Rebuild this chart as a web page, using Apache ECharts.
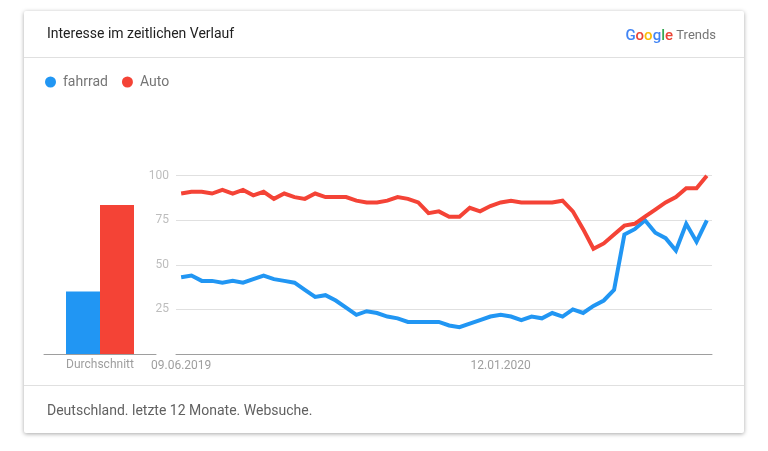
<!DOCTYPE html>
<html>
<head>
<meta charset="utf-8">
<title>Interesse im zeitlichen Verlauf</title>
<script src="https://cdn.jsdelivr.net/npm/echarts@6/dist/echarts.min.js"></script>
<style>
html, body { margin: 0; padding: 0; background: #fff; }
#chart { width: 768px; height: 451px; }
</style>
</head>
<body>
<div id="chart"></div>
<script>
const weeks = [
  '09.06.2019','16.06.2019','23.06.2019','30.06.2019','07.07.2019','14.07.2019','21.07.2019','28.07.2019',
  '04.08.2019','11.08.2019','18.08.2019','25.08.2019','01.09.2019','08.09.2019','15.09.2019','22.09.2019',
  '29.09.2019','06.10.2019','13.10.2019','20.10.2019','27.10.2019','03.11.2019','10.11.2019','17.11.2019',
  '24.11.2019','01.12.2019','08.12.2019','15.12.2019','22.12.2019','29.12.2019','05.01.2020','12.01.2020',
  '19.01.2020','26.01.2020','02.02.2020','09.02.2020','16.02.2020','23.02.2020','01.03.2020','08.03.2020',
  '15.03.2020','22.03.2020','29.03.2020','05.04.2020','12.04.2020','19.04.2020','26.04.2020','03.05.2020',
  '10.05.2020','17.05.2020','24.05.2020','31.05.2020'
]
const fahrrad = [43,44,41,41,40,41,40,42,44,42,41,40,36,32,33,30,26,22,24,23,21,20,18,18,18,18,16,15,17,19,21,22,21,19,21,20,23,21,25,23,27,30,36,67,70,75,68,65,58,73,63,75]
const auto = [90,91,91,90,92,90,92,89,91,87,90,88,87,90,88,88,88,86,85,85,86,88,87,85,79,80,77,77,82,80,83,85,86,85,85,85,85,86,80,70,59,62,67,72,73,77,81,85,88,93,93,100]
const avgLabel = ['Durchschnitt']
const avgFahrrad = [35]
const avgAuto = [83.5]
const dateTicks = ['09.06.2019', '12.01.2020']

const blue = '#2196f3'
const red = '#f44336'
const font = 'Roboto'

const chart = echarts.init(document.getElementById('chart'), null, { renderer: 'canvas' })

chart.setOption({
  animation: false,
  textStyle: { fontFamily: font },
  graphic: [
    { type: 'rect', z: -10, shape: { x: 24, y: 11, width: 720, height: 422, r: 2 },
      style: { fill: '#fff', shadowBlur: 4, shadowColor: 'rgba(0,0,0,0.35)', shadowOffsetY: 1 } },
    { type: 'line', z: -5, shape: { x1: 24, y1: 57.5, x2: 744, y2: 57.5 }, style: { stroke: '#e0e0e0', lineWidth: 1 } },
    { type: 'line', z: -5, shape: { x1: 24, y1: 385.5, x2: 744, y2: 385.5 }, style: { stroke: '#e0e0e0', lineWidth: 1 } },
    { type: 'text', x: 47, y: 34, style: { text: 'Interesse im zeitlichen Verlauf', font: '14px Roboto', fill: '#212121', verticalAlign: 'middle' } },
    { type: 'text', x: 47, y: 411, style: { text: 'Deutschland. letzte 12 Monate. Websuche.', font: '14px Roboto', fill: '#616161', verticalAlign: 'middle' } },
    { type: 'text', x: 716, y: 36, style: {
      text: '{b|G}{r|o}{y|o}{b|g}{g|l}{r|e} {t|Trends}',
      align: 'right', verticalAlign: 'middle',
      rich: {
        b: { fill: '#4285f4', font: '500 15px Roboto' },
        r: { fill: '#ea4335', font: '500 15px Roboto' },
        y: { fill: '#fbbc05', font: '500 15px Roboto' },
        g: { fill: '#34a853', font: '500 15px Roboto' },
        t: { fill: '#757575', font: '13px Roboto' }
      }
    } }
  ],
  legend: {
    left: 40, top: 70, icon: 'circle', itemWidth: 11, itemHeight: 11, itemGap: 14,
    data: ['fahrrad', 'Auto'],
    textStyle: { color: '#757575', fontSize: 14, fontFamily: font, padding: [0, 0, 0, 2] }
  },
  grid: [
    { left: 44, top: 175.7, width: 112, height: 178.3 },
    { left: 176, top: 175.7, width: 536, height: 178.3 }
  ],
  xAxis: [
    { gridIndex: 0, type: 'category', data: avgLabel,
      axisLine: { lineStyle: { color: '#9e9e9e', width: 1 } }, axisTick: { show: false },
      axisLabel: { color: '#9e9e9e', fontSize: 12, margin: 5 } },
    { gridIndex: 1, type: 'category', data: weeks,
      axisLine: { lineStyle: { color: '#9e9e9e', width: 1 } }, axisTick: { show: false },
      axisLabel: { color: '#9e9e9e', fontSize: 12, margin: 6,
        interval: (i, v) => dateTicks.includes(v) } }
  ],
  yAxis: [
    { gridIndex: 0, type: 'value', min: 0, max: 100, show: false },
    { gridIndex: 1, type: 'value', min: 0, max: 100, interval: 25,
      axisLine: { show: false }, axisTick: { show: false },
      splitLine: { lineStyle: { color: '#e0e0e0', width: 1 } },
      axisLabel: { color: '#bdbdbd', fontSize: 12, margin: 7,
        formatter: v => v === 0 ? '' : String(v) } }
  ],
  series: [
    { name: 'fahrrad', type: 'bar', xAxisIndex: 0, yAxisIndex: 0, data: avgFahrrad, barWidth: 34, barGap: 0, itemStyle: { color: blue } },
    { name: 'Auto', type: 'bar', xAxisIndex: 0, yAxisIndex: 0, data: avgAuto, barWidth: 34, barGap: 0, itemStyle: { color: red } },
    { name: 'fahrrad', type: 'line', xAxisIndex: 1, yAxisIndex: 1, data: fahrrad, showSymbol: false, symbol: 'none',
      lineStyle: { color: blue, width: 4, join: 'miter' }, itemStyle: { color: blue } },
    { name: 'Auto', type: 'line', xAxisIndex: 1, yAxisIndex: 1, data: auto, showSymbol: false, symbol: 'none',
      lineStyle: { color: red, width: 4, join: 'miter' }, itemStyle: { color: red } }
  ]
})
</script>
</body>
</html>
